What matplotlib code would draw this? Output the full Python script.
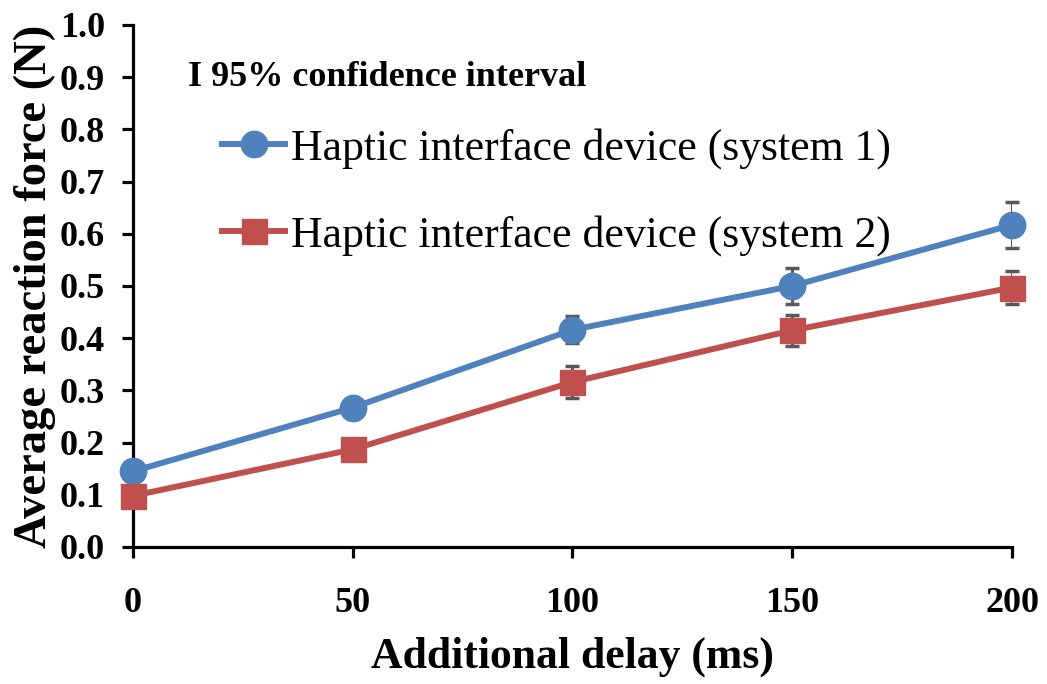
import matplotlib
matplotlib.use("Agg")
import matplotlib.pyplot as plt
from matplotlib.ticker import MultipleLocator, FormatStrFormatter

# --- dữ liệu ---
delay_ms = [0, 50, 100, 150, 200]
force_sys1 = [0.145, 0.267, 0.416, 0.500, 0.617]
force_sys2 = [0.098, 0.187, 0.316, 0.415, 0.497]
ci_sys1 = [0.010, 0.010, 0.026, 0.034, 0.044]
ci_sys2 = [0.010, 0.010, 0.030, 0.030, 0.032]
labels = ["Haptic interface device (system 1)", "Haptic interface device (system 2)"]

plt.rcParams['font.family'] = ['Liberation Serif', 'DejaVu Serif']

fig = plt.figure(figsize=(10.47, 6.84), dpi=100)
ax = fig.add_axes([0.127, 0.2003, 0.8396, 0.7632])

blue = '#4F81BD'
red = '#C0504D'

# thanh sai số nằm dưới đường
ax.errorbar(delay_ms, force_sys1, yerr=ci_sys1, fmt='none', ecolor='#595959',
            elinewidth=2.2, capsize=5, capthick=2.5, zorder=2)
ax.errorbar(delay_ms, force_sys2, yerr=ci_sys2, fmt='none', ecolor='#595959',
            elinewidth=2.2, capsize=5, capthick=2.5, zorder=2)

l1, = ax.plot(delay_ms, force_sys1, color=blue, linewidth=4.3, marker='o',
              markersize=19, zorder=3, label=labels[0])
l2, = ax.plot(delay_ms, force_sys2, color=red, linewidth=4.3, marker='s',
              markersize=18, zorder=3, label=labels[1])

ax.set_xlim(0, 200)
ax.set_ylim(0, 1.0)
ax.xaxis.set_major_locator(MultipleLocator(50))
ax.yaxis.set_major_locator(MultipleLocator(0.1))
ax.yaxis.set_major_formatter(FormatStrFormatter('%.1f'))

for s in ['top', 'right']:
    ax.spines[s].set_visible(False)
for s in ['left', 'bottom']:
    ax.spines[s].set_linewidth(2.3)
for ln in ax.lines:
    ln.set_clip_on(False)

ax.tick_params(axis='both', direction='out', length=8, width=2.3,
               labelsize=26)
ax.tick_params(axis='y', pad=12)
ax.tick_params(axis='x', pad=21)
for t in ax.get_xticklabels() + ax.get_yticklabels():
    t.set_fontweight('bold')

ax.set_xlabel("Additional delay (ms)", fontsize=31.5, fontweight='bold', labelpad=12)
ax.set_ylabel("Average reaction force (N)", fontsize=33.5, fontweight='bold', labelpad=3)

fig.text(188 / 1047, 1 - 77 / 684, "I 95% confidence interval", fontsize=26,
         fontweight='bold', va='center', ha='left')

leg = ax.legend(handles=[l1, l2], loc='upper left',
                bbox_to_anchor=(222 / 1047, 1 - 128 / 684),
                bbox_transform=fig.transFigure, frameon=False, fontsize=31.5,
                handlelength=1.45, handletextpad=0.12, labelspacing=1.05,
                borderpad=0, borderaxespad=0)

fig.savefig("out.png", dpi=100)
